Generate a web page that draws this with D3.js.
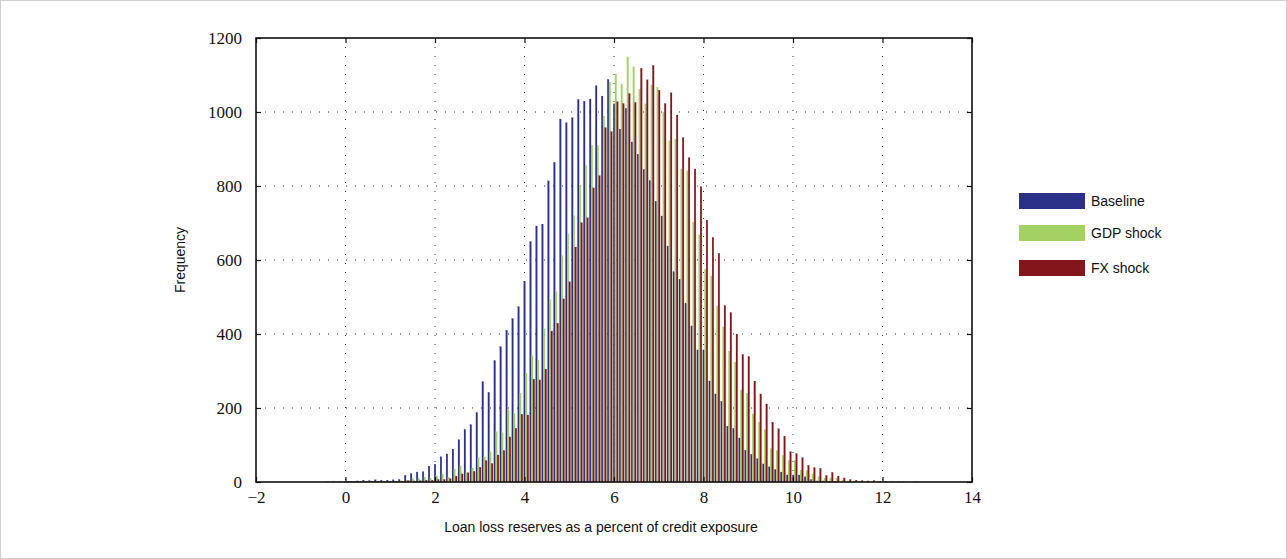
<!DOCTYPE html>
<html>
<head>
<meta charset="utf-8">
<script src="https://cdn.jsdelivr.net/npm/d3@7/dist/d3.min.js"></script>
<style>
  body { margin: 0; background: #fff; }
  svg { display: block; }
</style>
</head>
<body>
<div id="chart"></div>
<script>
// histogram bins (100 bins), start centre and width
var binStart = -0.364
var binWidth = 0.1334

var seriesNames = ["Baseline", "GDP shock", "FX shock"]
var seriesColors = ["#2b3088", "#a3d263", "#84161b"]

var baseline = [
  1, 1, 1, 1, 2, 3, 5, 4, 6, 5,
  5, 6, 7, 18, 23, 27, 28, 43, 48, 68,
  76, 89, 114, 142, 155, 188, 271, 242, 328, 366,
  410, 442, 474, 542, 650, 692, 697, 814, 864, 981,
  971, 985, 1034, 1029, 1035, 1071, 1043, 1088, 1022, 954,
  1010, 919, 886, 845, 815, 759, 719, 638, 568, 548,
  483, 422, 357, 357, 273, 238, 218, 151, 145, 119,
  86, 75, 63, 49, 41, 34, 27, 19, 19, 19,
  14, 7, 3, 3, 1, 1, 0, 0, 0, 0,
  0, 0, 0, 0, 0, 0, 0, 0, 0, 0
]
var gdpShock = [
  0, 0, 1, 1, 1, 1, 2, 2, 2, 3,
  3, 3, 4, 5, 9, 10, 13, 10, 17, 22,
  13, 35, 44, 26, 38, 66, 68, 82, 136, 133,
  195, 186, 240, 294, 341, 330, 414, 493, 515, 612,
  671, 720, 801, 855, 911, 910, 989, 1081, 1103, 1076,
  1149, 1122, 1062, 1022, 1073, 1067, 1000, 922, 927, 846,
  841, 702, 668, 575, 557, 476, 419, 354, 324, 249,
  240, 184, 162, 141, 90, 85, 72, 58, 58, 32,
  31, 22, 14, 11, 11, 11, 5, 3, 3, 2,
  2, 1, 1, 1, 1, 0, 0, 0, 0, 0
]
var fxShock = [
  0, 0, 0, 1, 1, 1, 1, 1, 2, 2,
  2, 2, 2, 4, 3, 4, 5, 5, 7, 7,
  9, 16, 22, 25, 29, 40, 58, 50, 73, 85,
  122, 145, 183, 181, 278, 276, 305, 408, 429, 495,
  541, 635, 701, 714, 795, 828, 958, 947, 1028, 1023,
  1050, 1026, 1118, 1087, 1126, 1059, 1023, 1052, 992, 931,
  877, 846, 798, 708, 661, 618, 477, 458, 400, 345,
  339, 273, 238, 211, 162, 144, 124, 82, 77, 66,
  45, 39, 37, 18, 26, 16, 11, 7, 5, 4,
  3, 4, 2, 2, 1, 1, 1, 0, 1, 0
]
var series = [baseline, gdpShock, fxShock]

var xTicks = [-2, 0, 2, 4, 6, 8, 10, 12, 14]
var yTicks = [0, 200, 400, 600, 800, 1000, 1200]

var width = 1287
var height = 559
var plotL = 256, plotR = 972, plotT = 38, plotB = 482

var svg = d3.select("#chart")
  .append("svg")
  .attr("width", width)
  .attr("height", height)

// light frame round the whole picture
svg.append("rect")
  .attr("x", 0.5).attr("y", 0.5)
  .attr("width", width - 1).attr("height", height - 1)
  .attr("fill", "none")
  .attr("stroke", "#cfcfcf")

var x = d3.scaleLinear().domain([-2, 14]).range([plotL, plotR])
var y = d3.scaleLinear().domain([0, 1200]).range([plotB, plotT])

// dotted grid
var grid = svg.append("g")
grid.selectAll(".gx")
  .data(xTicks.slice(1, -1))
  .enter().append("line")
  .attr("x1", d => x(d)).attr("x2", d => x(d))
  .attr("y1", plotT).attr("y2", plotB)
  .attr("stroke", "#333")
  .attr("stroke-width", 1)
  .attr("stroke-dasharray", "1,8")
grid.selectAll(".gy")
  .data(yTicks.slice(1, -1))
  .enter().append("line")
  .attr("x1", plotL).attr("x2", plotR)
  .attr("y1", d => y(d)).attr("y2", d => y(d))
  .attr("stroke", "#333")
  .attr("stroke-width", 1)
  .attr("stroke-dasharray", "1,8")

// bars
var pxStep = x(binWidth) - x(0)
var barW = pxStep * 0.28
var bars = svg.append("g")
series.forEach((vals, s) => {
  bars.selectAll(".b" + s)
    .data(vals)
    .enter().append("rect")
    .attr("x", (d, i) => x(binStart + i * binWidth) + (s - 1.5) * barW)
    .attr("width", barW)
    .attr("y", d => y(d))
    .attr("height", d => plotB - y(d))
    .attr("fill", seriesColors[s])
    .attr("stroke", seriesColors[s])
    .attr("stroke-width", 0.3)
    .attr("stroke-opacity", 0.6)
})

// axes with inward ticks
var serif = "'Liberation Serif', 'DejaVu Serif', serif"
var fmtX = d => d < 0 ? "\u2212" + Math.abs(d) : String(d)

var xAxis = svg.append("g")
  .attr("transform", "translate(0," + plotB + ")")
  .call(d3.axisBottom(x).tickValues(xTicks).tickFormat(fmtX).tickSizeInner(-5).tickSizeOuter(0).tickPadding(6))
var xAxisTop = svg.append("g")
  .attr("transform", "translate(0," + plotT + ")")
  .call(d3.axisTop(x).tickValues(xTicks).tickFormat("").tickSizeInner(-5).tickSizeOuter(0))
var yAxis = svg.append("g")
  .attr("transform", "translate(" + plotL + ",0)")
  .call(d3.axisLeft(y).tickValues(yTicks).tickFormat(d3.format("d")).tickSizeInner(-5).tickSizeOuter(0).tickPadding(14))
var yAxisRight = svg.append("g")
  .attr("transform", "translate(" + plotR + ",0)")
  .call(d3.axisRight(y).tickValues(yTicks).tickFormat("").tickSizeInner(-5).tickSizeOuter(0))

;[xAxis, xAxisTop, yAxis, yAxisRight].forEach(a => {
  a.select(".domain").remove()
  a.selectAll(".tick line").attr("stroke", "#111").attr("stroke-width", 1.2)
  a.selectAll("text").attr("font-family", serif).attr("font-size", 17).attr("fill", "#111")
})
xAxis.selectAll("text").attr("dy", "0.9em")

// plot box
svg.append("rect")
  .attr("x", plotL).attr("y", plotT)
  .attr("width", plotR - plotL).attr("height", plotB - plotT)
  .attr("fill", "none")
  .attr("stroke", "#111")
  .attr("stroke-width", 1.6)

var sans = "'Liberation Sans', Arial, Helvetica, sans-serif"

svg.append("text")
  .attr("x", (plotL + plotR) / 2 - 13)
  .attr("y", 532)
  .attr("text-anchor", "middle")
  .attr("font-family", sans)
  .attr("font-size", 14)
  .attr("fill", "#111")
  .text("Loan loss reserves as a percent of credit exposure")

svg.append("text")
  .attr("transform", "translate(185," + ((plotT + plotB) / 2) + ") rotate(-90)")
  .attr("text-anchor", "middle")
  .attr("font-family", sans)
  .attr("font-size", 14)
  .attr("fill", "#111")
  .text("Frequency")

// legend
var legendY = [201, 233, 268]
var legend = svg.append("g")
seriesNames.forEach((name, i) => {
  legend.append("rect")
    .attr("x", 1019).attr("y", legendY[i] - 8)
    .attr("width", 66).attr("height", 16)
    .attr("fill", seriesColors[i])
  legend.append("text")
    .attr("x", 1091).attr("y", legendY[i])
    .attr("dy", "0.35em")
    .attr("font-family", sans)
    .attr("font-size", 14)
    .attr("fill", "#111")
    .text(name)
})
</script>
</body>
</html>
